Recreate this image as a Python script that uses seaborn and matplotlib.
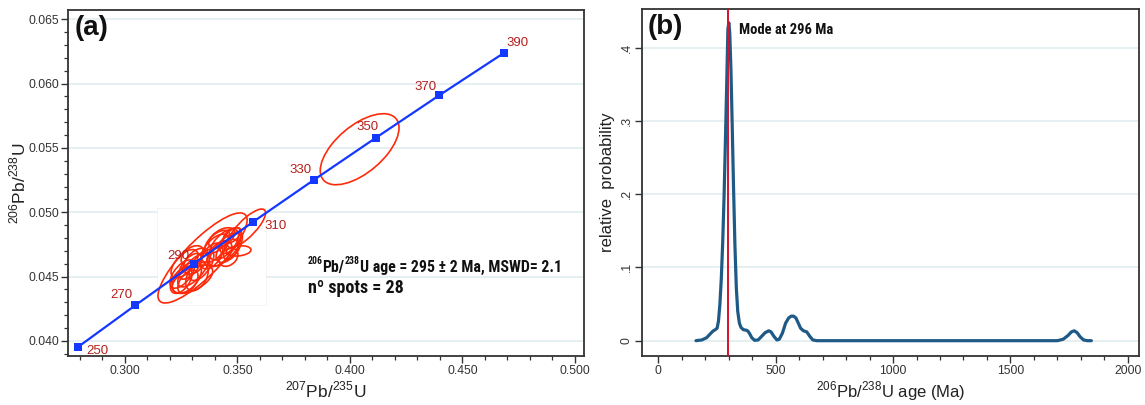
import numpy as np
import pandas as pd
import matplotlib
matplotlib.use("Agg")
import matplotlib.pyplot as plt
import seaborn as sns
from matplotlib.patches import Ellipse, Rectangle
from matplotlib import font_manager as fm
from matplotlib.ticker import MultipleLocator, FixedLocator, FuncFormatter

# ---------------- data ----------------
conc_age = [250, 270, 290, 310, 330, 350, 370, 390]
conc_x = [0.2792, 0.3046, 0.3306, 0.3570, 0.3840, 0.4116, 0.4396, 0.4683]
conc_y = [0.03954, 0.04277, 0.04601, 0.04926, 0.05252, 0.05580, 0.05908, 0.06237]

# error ellipses: centre, half-extent in x and y, correlation
ell_cx = [0.4043, 0.3345, 0.3540, 0.3505, 0.3300,
          0.3255, 0.3275, 0.3290, 0.3305, 0.3315, 0.3320, 0.3280, 0.3265, 0.3340, 0.3300, 0.3250,
          0.3400, 0.3420, 0.3440, 0.3455, 0.3470, 0.3430, 0.3385, 0.3460, 0.3480, 0.3410, 0.3445, 0.3475]
ell_cy = [0.0549, 0.04645, 0.04875, 0.0470, 0.0448,
          0.0452, 0.0449, 0.0458, 0.0455, 0.0462, 0.0450, 0.0446, 0.0460, 0.0459, 0.0466, 0.0447,
          0.0472, 0.0468, 0.0475, 0.0470, 0.0478, 0.0480, 0.0466, 0.0465, 0.0474, 0.0477, 0.0471, 0.0482]
ell_ax = [0.0175, 0.0198, 0.0085, 0.0055, 0.0090,
          0.0055, 0.0065, 0.0050, 0.0070, 0.0055, 0.0050, 0.0045, 0.0060, 0.0055, 0.0050, 0.0048,
          0.0060, 0.0055, 0.0065, 0.0050, 0.0048, 0.0058, 0.0050, 0.0042, 0.0042, 0.0055, 0.0070, 0.0038]
ell_ay = [0.00276, 0.0035, 0.0015, 0.0004, 0.0011,
          0.0011, 0.0012, 0.0010, 0.0013, 0.0010, 0.0011, 0.0009, 0.0011, 0.0012, 0.0008, 0.0010,
          0.0011, 0.0010, 0.0012, 0.0009, 0.0010, 0.0008, 0.0010, 0.0007, 0.0011, 0.0009, 0.0013, 0.0006]
ell_rho = [0.60, 0.84, 0.80, 0.20, 0.55,
           0.6, 0.5, 0.6, 0.7, 0.5, 0.4, 0.5, 0.6, 0.6, 0.4, 0.5,
           0.6, 0.5, 0.6, 0.5, 0.6, 0.5, 0.5, 0.3, 0.6, 0.6, 0.7, 0.5]

pdp_age = [160, 185, 205, 220, 232, 242, 250, 256, 262, 268,
           274, 280, 286, 291, 296, 300, 304, 309, 314, 320,
           326, 332, 338, 345, 352, 362, 372, 380, 388, 398,
           410, 425, 440, 455, 470, 480, 492, 505, 515, 528,
           542, 555, 566, 576, 586, 596, 606, 618, 632, 645,
           658, 675, 700, 1700, 1725, 1745, 1760, 1772, 1784, 1798,
           1812, 1828, 1845]
pdp_prob = [0, 0.001, 0.004, 0.009, 0.013, 0.015, 0.017, 0.027, 0.050, 0.085,
            0.135, 0.20, 0.28, 0.35, 0.425, 0.434, 0.42, 0.37, 0.30, 0.21,
            0.13, 0.072, 0.04, 0.024, 0.018, 0.015, 0.0145, 0.0135, 0.010, 0.004,
            0.0005, 0.001, 0.006, 0.011, 0.0135, 0.012, 0.006, 0.001, 0.002, 0.010,
            0.024, 0.031, 0.0335, 0.0335, 0.031, 0.024, 0.017, 0.0135, 0.012, 0.006,
            0.001, 0, 0, 0, 0.002, 0.007, 0.012, 0.0135, 0.011, 0.005,
            0.001, 0, 0]
mode_age = 296

a_xticks = [0.300, 0.350, 0.400, 0.450, 0.500]
a_yticks = [0.040, 0.045, 0.050, 0.055, 0.060, 0.065]
b_xticks = [0, 500, 1000, 1500, 2000]
b_yticks = [0, 0.1, 0.2, 0.3, 0.4]

# ---------------- style ----------------
sns.set_theme(style="ticks")
plt.rcParams["font.family"] = ["Liberation Sans", "DejaVu Sans"]


def find_condensed():
    fonts = fm.fontManager.ttflist
    prefs = ["Liberation Sans Narrow", "Roboto Condensed", "Open Sans Condensed",
             "Noto Sans Condensed", "DejaVu Sans Condensed"]
    for p in prefs:
        for f in fonts:
            if f.name == p and f.weight in ("bold", 700, "heavy"):
                return fm.FontProperties(fname=f.fname)
    for f in fonts:
        st = str(f.stretch).lower()
        if ("condensed" in st or "narrow" in st or st in ("75", "62.5", "87.5")) and \
                str(f.weight) in ("bold", "700", "600", "semibold"):
            return fm.FontProperties(fname=f.fname)
    for f in fonts:
        if ("Condensed" in f.fname or "Narrow" in f.fname) and "Bold" in f.fname:
            return fm.FontProperties(fname=f.fname)
    return None


cond_fp = find_condensed()


def narrow_props(size):
    if cond_fp is not None:
        fp = cond_fp.copy()
        fp.set_size(size)
        return fp
    return fm.FontProperties(family=["Liberation Sans", "DejaVu Sans"], weight="bold",
                             size=size * 0.8)


plt.rcParams["mathtext.fontset"] = "custom"
plt.rcParams["mathtext.rm"] = "Liberation Sans"

FW, FH = 1145, 405
fig = plt.figure(figsize=(FW / 100, FH / 100), dpi=100)
fig.patch.set_facecolor("white")


def px_axes(l, r, t, b):
    return fig.add_axes([l / FW, 1 - b / FH, (r - l) / FW, (b - t) / FH])


ax1 = px_axes(68, 584, 10, 356)
ax2 = px_axes(642, 1139, 9, 356)

frame_c = "#333333"
grid_c = "#e4eff1"
for ax in (ax1, ax2):
    ax.set_facecolor("white")
    for s in ax.spines.values():
        s.set_visible(True)
        s.set_color(frame_c)
        s.set_linewidth(1.3)
    ax.tick_params(which="major", direction="out", length=5, width=1.0, color=frame_c,
                   labelcolor="#333333", labelsize=8.7, pad=1.5)
    ax.tick_params(which="minor", direction="out", length=3, width=0.9, color=frame_c)
    ax.set_axisbelow(True)

# ---------------- panel (a) ----------------
ax1.set_xlim(0.2747, 0.5040)
ax1.set_ylim(0.03883, 0.06572)
ax1.xaxis.set_major_locator(FixedLocator(a_xticks))
ax1.yaxis.set_major_locator(FixedLocator(a_yticks))
ax1.xaxis.set_minor_locator(MultipleLocator(0.01))
ax1.yaxis.set_minor_locator(MultipleLocator(0.001))
ax1.xaxis.set_major_formatter(FuncFormatter(lambda v, p: f"{v:.3f}"))
ax1.yaxis.set_major_formatter(FuncFormatter(lambda v, p: f"{v:.3f}"))
for yv in a_yticks:
    ax1.axhline(yv, color=grid_c, lw=1.3, zorder=0)

# white pasted background behind the cluster
ax1.add_patch(Rectangle((0.3143, 0.04280), 0.0484, 0.00753, facecolor="white",
                        edgecolor="#f3f3f3", lw=0.6, zorder=0.5))

conc = pd.DataFrame({"x": conc_x, "y": conc_y, "age": conc_age})
sns.lineplot(data=conc, x="x", y="y", ax=ax1, color="#1438ff", lw=1.6, sort=False, zorder=3)

for cx, cy, a, b, r in zip(ell_cx, ell_cy, ell_ax, ell_ay, ell_rho):
    C = np.array([[a * a, r * a * b], [r * a * b, b * b]])
    vals, vecs = np.linalg.eigh(C)
    ang = np.degrees(np.arctan2(vecs[1, 1], vecs[0, 1]))
    e = Ellipse((cx, cy), 2 * np.sqrt(vals[1]), 2 * np.sqrt(vals[0]), angle=ang,
                facecolor="none", edgecolor="#ff2a0a", lw=1.2, zorder=2)
    ax1.add_patch(e)

sns.scatterplot(data=conc, x="x", y="y", ax=ax1, marker="s", s=30, color="#1438ff",
                edgecolor="#1438ff", linewidth=0, zorder=4)

lab_style = {250: (6, -7, "left"), 270: (-2, 3, "right"), 290: (-3, 1, "right"),
             310: (8, -7, "left"), 330: (-2, 3, "right"), 350: (2, 3, "right"),
             370: (-2, 2, "right"), 390: (2, 3, "left")}
for age, x, y in zip(conc_age, conc_x, conc_y):
    dx, dy, ha = lab_style[age]
    ax1.annotate(str(age), (x, y), xytext=(dx, dy), textcoords="offset points",
                 ha=ha, va="bottom", color="#b5201c", fontsize=9.5, zorder=5)

# age annotation, built from chained text pieces (small superscripts)
main_fp = narrow_props(11.4)
sup_fp = narrow_props(7)
txt_c = "#111111"
pb = ax1.text(0.3878, 0.04570, "Pb/", fontproperties=main_fp, ha="left", va="center",
              color=txt_c, zorder=6)
ax1.annotate("206", xy=(0, 0.62), xycoords=pb, ha="right", va="bottom",
             fontproperties=sup_fp, color=txt_c, zorder=6)
s238 = ax1.annotate("238", xy=(1, 0.62), xycoords=pb, ha="left", va="bottom",
                    fontproperties=sup_fp, color=txt_c, zorder=6)
ax1.annotate("U age = 295 ± 2 Ma, MSWD= 2.1", xy=(1, 0), xycoords=(s238, pb),
             ha="left", va="bottom", fontproperties=main_fp, color=txt_c, zorder=6)
ax1.text(0.3813, 0.04415, "nº spots = 28", fontproperties=narrow_props(13),
         ha="left", va="center", color=txt_c, zorder=6)
ax1.text(0.012, 0.985, "(a)", transform=ax1.transAxes, fontsize=20, fontweight="bold",
         ha="left", va="top", color="#111111")

ax1.set_xlabel(r"$^{207}$Pb/$^{235}$U", fontsize=12.5, color="#222222", labelpad=2)
ax1.set_ylabel(r"$^{206}$Pb/$^{238}$U", fontsize=12.5, color="#222222", labelpad=0)

# ---------------- panel (b) ----------------
ax2.set_xlim(-70, 2048)
ax2.set_ylim(-0.0209, 0.4528)
ax2.xaxis.set_major_locator(FixedLocator(b_xticks))
ax2.xaxis.set_minor_locator(MultipleLocator(100))
ax2.yaxis.set_major_locator(FixedLocator(b_yticks))
ax2.yaxis.set_major_formatter(FuncFormatter(lambda v, p: "0" if abs(v) < 1e-9 else f"{v:.1f}".lstrip("0")))
ax2.tick_params(axis="y", which="minor", length=0)
for lbl in ax2.get_yticklabels():
    lbl.set_rotation(90)
    lbl.set_va("center")
for yv in b_yticks:
    ax2.axhline(yv, color=grid_c, lw=1.3, zorder=0)

pdp = pd.DataFrame({"age": pdp_age, "prob": pdp_prob})
sns.lineplot(data=pdp, x="age", y="prob", ax=ax2, color="#1f5a86", lw=2.3, zorder=3)
ax2.axvline(mode_age, color="#d8102c", lw=1.4, zorder=4)
ax2.text(345, 0.424, f"Mode at {mode_age} Ma", fontproperties=narrow_props(10.5),
         ha="left", va="center", color="#111111")
ax2.text(0.012, 0.985, "(b)", transform=ax2.transAxes, fontsize=20, fontweight="bold",
         ha="left", va="top", color="#111111")
ax2.set_xlabel(r"$^{206}$Pb/$^{238}$U age (Ma)", fontsize=12, color="#222222", labelpad=2)
ax2.set_ylabel("relative  probability", fontsize=12, color="#222222", labelpad=4)

fig.savefig("out.png", dpi=100, facecolor="white")
